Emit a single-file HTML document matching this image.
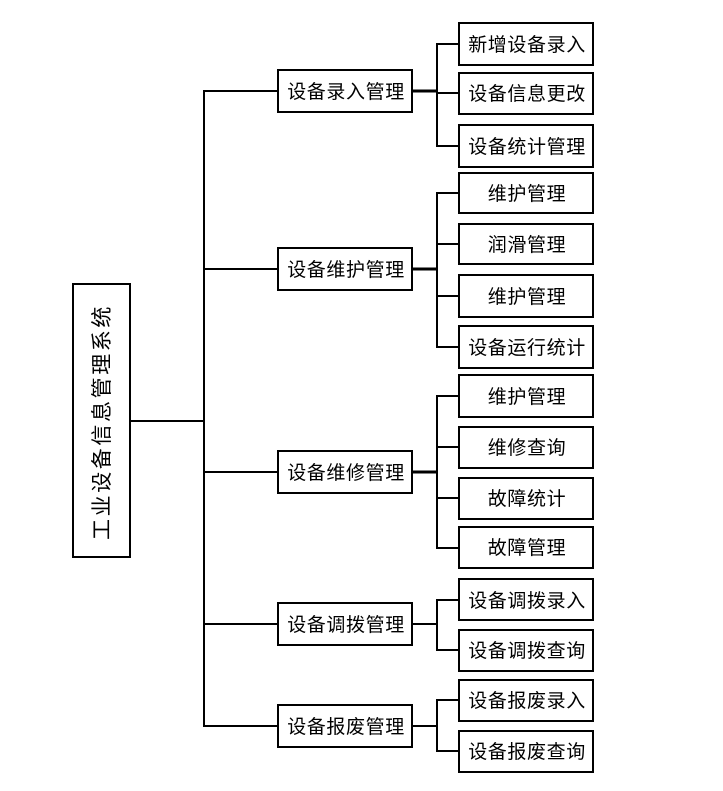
<!DOCTYPE html>
<html><head><meta charset="utf-8"><style>
html,body{margin:0;padding:0;background:#fff;}
svg{display:block;}
text{font-family:"Liberation Sans","Noto Sans CJK SC",sans-serif;font-size:19px;letter-spacing:0.6px;fill:#000;}
</style></head><body>
<svg width="723" height="791" viewBox="0 0 723 791" xmlns="http://www.w3.org/2000/svg">
<g stroke="#000" stroke-width="2" fill="none">
<rect x="73" y="284" width="57" height="273"/>
<line x1="130" y1="421" x2="204" y2="421"/>
<line x1="204" y1="90" x2="204" y2="727"/>
<line x1="204" y1="91" x2="278" y2="91"/>
<line x1="204" y1="269" x2="278" y2="269"/>
<line x1="204" y1="472" x2="278" y2="472"/>
<line x1="204" y1="624" x2="278" y2="624"/>
<line x1="204" y1="726" x2="278" y2="726"/>
<rect x="278" y="70" width="134" height="42"/>
<rect x="278" y="248" width="134" height="42"/>
<rect x="278" y="451" width="134" height="42"/>
<rect x="278" y="603" width="134" height="42"/>
<rect x="278" y="705" width="134" height="42"/>
<line x1="412" y1="91" x2="437" y2="91" stroke-width="3"/>
<line x1="412" y1="269" x2="437" y2="269" stroke-width="3"/>
<line x1="412" y1="472" x2="437" y2="472" stroke-width="3"/>
<line x1="412" y1="624" x2="437" y2="624"/>
<line x1="412" y1="726" x2="437" y2="726"/>
<line x1="437" y1="43" x2="437" y2="147"/>
<line x1="437" y1="192" x2="437" y2="348"/>
<line x1="437" y1="395" x2="437" y2="549"/>
<line x1="437" y1="599" x2="437" y2="651"/>
<line x1="437" y1="699" x2="437" y2="752"/>
<line x1="437" y1="44" x2="459" y2="44"/><rect x="459" y="23" width="134" height="42"/>
<line x1="437" y1="93" x2="459" y2="93"/><rect x="459" y="73" width="134" height="41"/>
<line x1="437" y1="146" x2="459" y2="146"/><rect x="459" y="125" width="134" height="42"/>
<line x1="437" y1="193" x2="459" y2="193"/><rect x="459" y="173" width="134" height="40"/>
<line x1="437" y1="244" x2="459" y2="244"/><rect x="459" y="224" width="134" height="40"/>
<line x1="437" y1="296" x2="459" y2="296"/><rect x="459" y="275" width="134" height="42"/>
<line x1="437" y1="347" x2="459" y2="347"/><rect x="459" y="326" width="134" height="42"/>
<line x1="437" y1="396" x2="459" y2="396"/><rect x="459" y="375" width="134" height="42"/>
<line x1="437" y1="447" x2="459" y2="447"/><rect x="459" y="427" width="134" height="41"/>
<line x1="437" y1="498" x2="459" y2="498"/><rect x="459" y="478" width="134" height="41"/>
<line x1="437" y1="548" x2="459" y2="548"/><rect x="459" y="527" width="134" height="41"/>
<line x1="437" y1="600" x2="459" y2="600"/><rect x="459" y="579" width="134" height="41"/>
<line x1="437" y1="650" x2="459" y2="650"/><rect x="459" y="630" width="134" height="41"/>
<line x1="437" y1="700" x2="459" y2="700"/><rect x="459" y="680" width="134" height="41"/>
<line x1="437" y1="751" x2="459" y2="751"/><rect x="459" y="731" width="134" height="41"/>
</g>
<text transform="translate(109,422) rotate(-90)" text-anchor="middle" style="font-size:21px;letter-spacing:2.6px">工业设备信息管理系统</text>
<g text-anchor="middle">
<text x="346" y="98">设备录入管理</text>
<text x="346" y="276">设备维护管理</text>
<text x="346" y="479">设备维修管理</text>
<text x="346" y="631">设备调拨管理</text>
<text x="346" y="733">设备报废管理</text>
<text x="527" y="51">新增设备录入</text>
<text x="527" y="100">设备信息更改</text>
<text x="527" y="153">设备统计管理</text>
<text x="527" y="200">维护管理</text>
<text x="527" y="251">润滑管理</text>
<text x="527" y="303">维护管理</text>
<text x="527" y="354">设备运行统计</text>
<text x="527" y="403">维护管理</text>
<text x="527" y="454">维修查询</text>
<text x="527" y="505">故障统计</text>
<text x="527" y="554">故障管理</text>
<text x="527" y="607">设备调拨录入</text>
<text x="527" y="657">设备调拨查询</text>
<text x="527" y="707">设备报废录入</text>
<text x="527" y="758">设备报废查询</text>
</g>
</svg>
</body></html>
